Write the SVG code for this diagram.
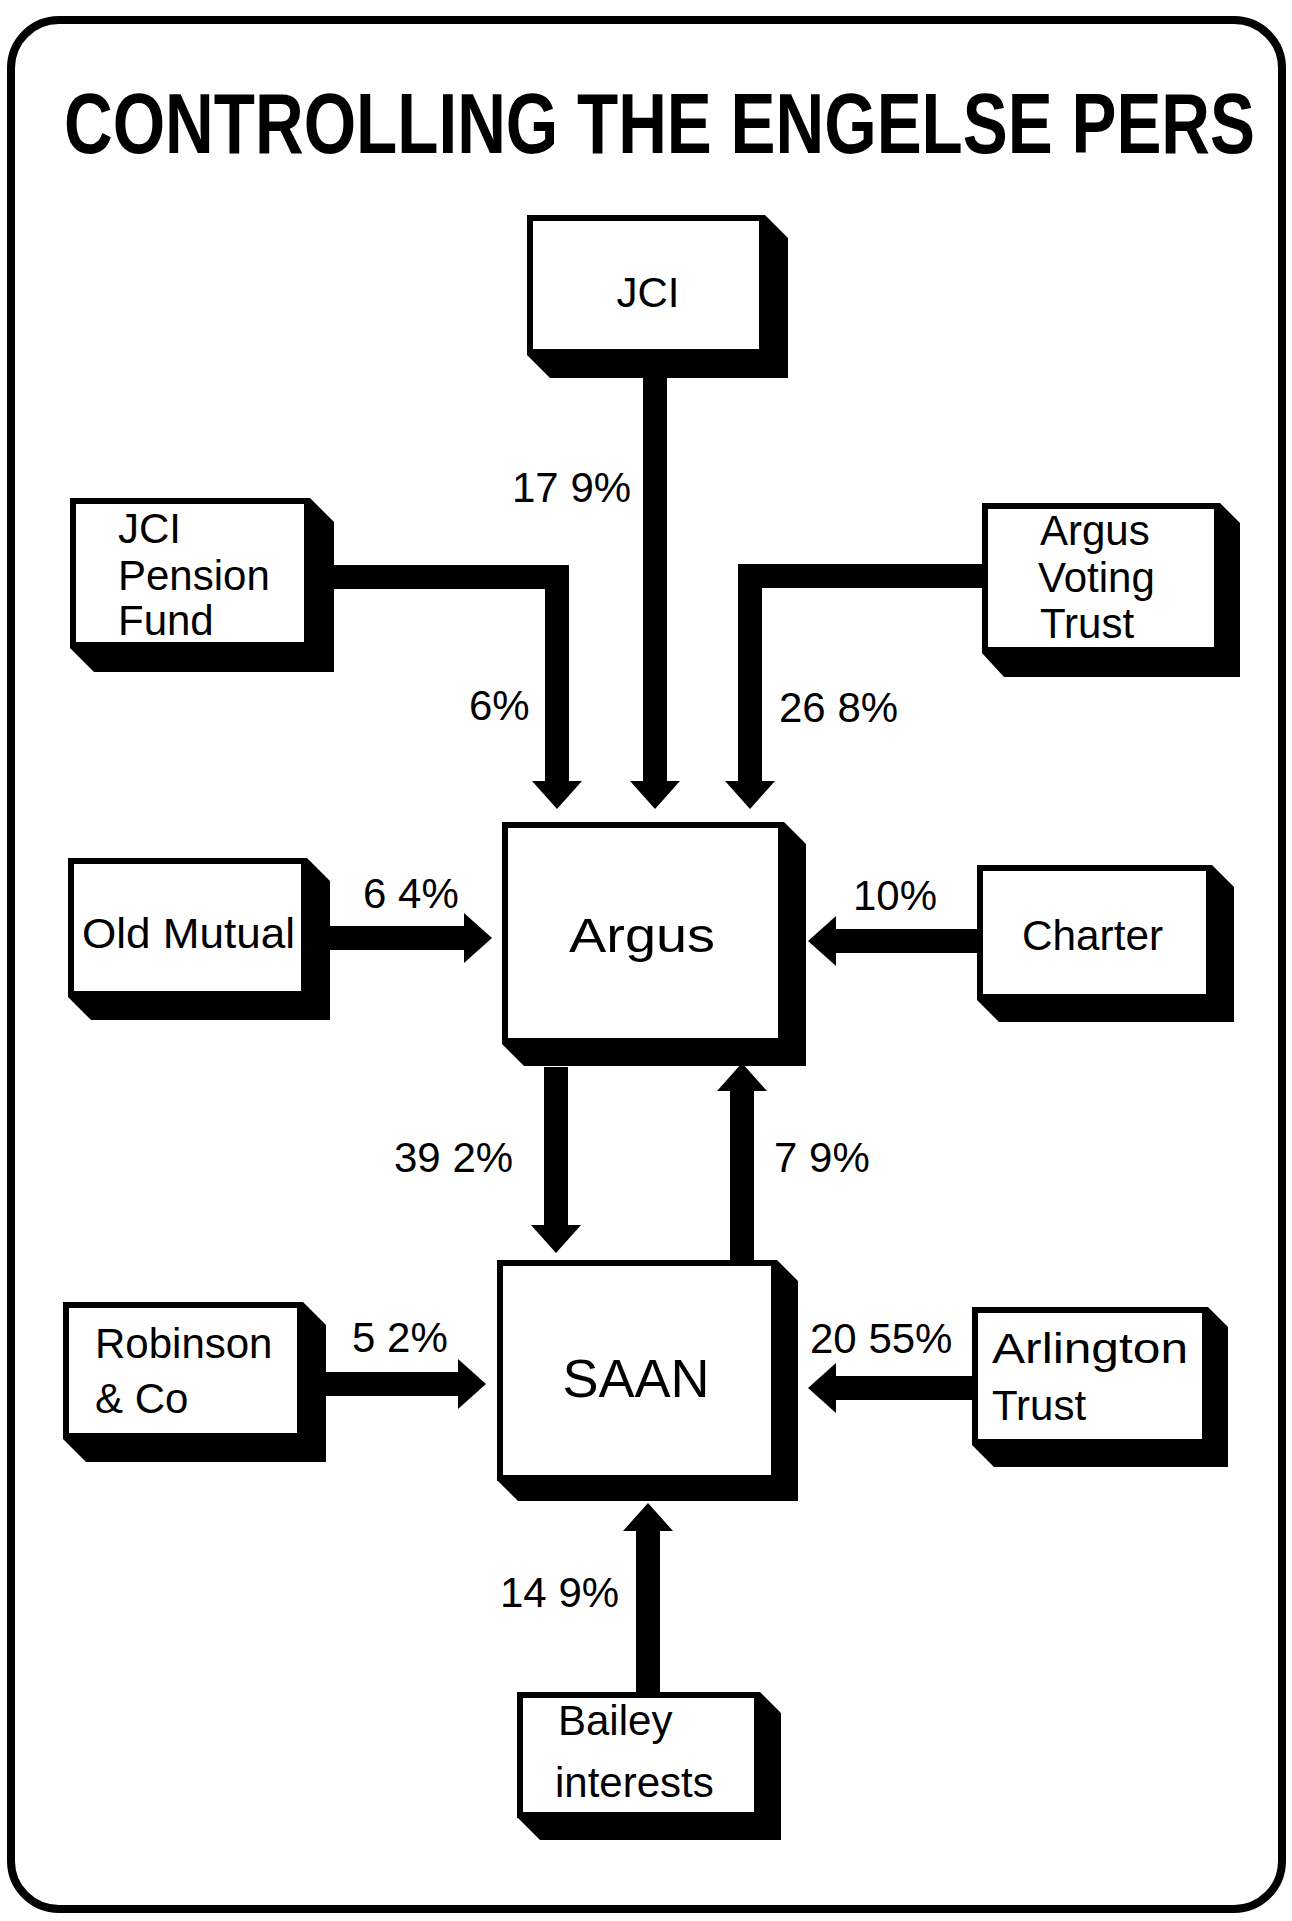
<svg xmlns="http://www.w3.org/2000/svg" width="1292" height="1921" viewBox="0 0 1292 1921">
<style>
.bg{fill:#fff}
.frame{fill:none;stroke:#000;stroke-width:8}
.face{fill:#fff;stroke:#000;stroke-width:6}
.shadow{fill:#000}
.lbl{font-family:"Liberation Sans",Arial,sans-serif;font-size:42px;fill:#000}
.pct{font-family:"Liberation Sans",Arial,sans-serif;font-size:42px;fill:#000}
.title{font-family:"Liberation Sans",Arial,sans-serif;font-weight:bold;font-size:66px;fill:#000}
.conn{fill:none;stroke:#000;stroke-width:24;stroke-linejoin:miter}
</style>
<defs>
<marker id="ah" viewBox="0 0 28 50" refX="1" refY="25" markerWidth="28" markerHeight="50" markerUnits="userSpaceOnUse" orient="auto">
<path d="M0,0 L28,25 L0,50 Z" fill="#000"/>
</marker>
</defs>
<rect class="bg" x="0" y="0" width="1292" height="1921"/>
<rect class="frame" x="11" y="20" width="1271" height="1889" rx="48" ry="48"/>
<text class="title" transform="translate(64,153) scale(1,1.3)" x="0" y="0" textLength="1191" lengthAdjust="spacingAndGlyphs">CONTROLLING THE ENGELSE PERS</text>

<g id="connectors">
<path class="conn" d="M655,378 V782" marker-end="url(#ah)"/>
<path class="conn" d="M330,577 H557 V782" marker-end="url(#ah)"/>
<path class="conn" d="M984,576 H750 V782" marker-end="url(#ah)"/>
<path class="conn" d="M328,938 H465" marker-end="url(#ah)"/>
<path class="conn" d="M979,941 H835" marker-end="url(#ah)"/>
<path class="conn" d="M556,1067 V1226" marker-end="url(#ah)"/>
<path class="conn" d="M742,1262 V1090" marker-end="url(#ah)"/>
<path class="conn" d="M325,1384 H459" marker-end="url(#ah)"/>
<path class="conn" d="M974,1388 H835" marker-end="url(#ah)"/>
<path class="conn" d="M648,1694 V1530" marker-end="url(#ah)"/>
<text class="pct" x="512" y="502">17 9%</text>
<text class="pct" x="469" y="720">6%</text>
<text class="pct" x="779" y="722">26 8%</text>
<text class="pct" x="363" y="908">6 4%</text>
<text class="pct" x="853" y="910">10%</text>
<text class="pct" x="394" y="1172">39 2%</text>
<text class="pct" x="774" y="1172">7 9%</text>
<text class="pct" x="352" y="1352">5 2%</text>
<text class="pct" x="810" y="1353">20 55%</text>
<text class="pct" x="500" y="1607">14 9%</text>
</g>

<g id="node-jci">
<polygon class="shadow" points="527,215 765,215 788,238 788,378 550,378 527,355"/>
<rect class="face" x="530" y="218" width="232" height="134"/>
<text class="lbl" x="648" y="307" text-anchor="middle">JCI</text>
</g>

<g id="node-jci-pension">
<polygon class="shadow" points="70,498 310,498 334,522 334,672 94,672 70,648"/>
<rect class="face" x="73" y="501" width="234" height="144"/>
<text class="lbl" x="118" y="543">JCI</text>
<text class="lbl" x="118" y="590">Pension</text>
<text class="lbl" x="118" y="635">Fund</text>
</g>

<g id="node-argus-voting">
<polygon class="shadow" points="982,503 1220,503 1240,523 1240,677 1004,677 982,653"/>
<rect class="face" x="985" y="506" width="232" height="144"/>
<text class="lbl" x="1040" y="545">Argus</text>
<text class="lbl" x="1038" y="592">Voting</text>
<text class="lbl" x="1040" y="638">Trust</text>
</g>

<g id="node-old-mutual">
<polygon class="shadow" points="68,858 307,858 330,881 330,1020 91,1020 68,997"/>
<rect class="face" x="71" y="861" width="233" height="133"/>
<text class="lbl" x="82" y="948" textLength="213" lengthAdjust="spacingAndGlyphs">Old Mutual</text>
</g>

<g id="node-argus">
<polygon class="shadow" points="502,822 784,822 806,844 806,1066 524,1066 502,1044"/>
<rect class="face" x="505" y="825" width="276" height="216"/>
<text class="lbl" x="642" y="952" text-anchor="middle" style="font-size:48px" textLength="146" lengthAdjust="spacingAndGlyphs">Argus</text>
</g>

<g id="node-charter">
<polygon class="shadow" points="977,865 1212,865 1234,887 1234,1022 999,1022 977,1000"/>
<rect class="face" x="980" y="868" width="229" height="129"/>
<text class="lbl" x="1022" y="950" textLength="141" lengthAdjust="spacingAndGlyphs">Charter</text>
</g>

<g id="node-robinson">
<polygon class="shadow" points="63,1302 303,1302 326,1325 326,1462 86,1462 63,1439"/>
<rect class="face" x="66" y="1305" width="234" height="131"/>
<text class="lbl" x="95" y="1358">Robinson</text>
<text class="lbl" x="95" y="1413">&amp; Co</text>
</g>

<g id="node-saan">
<polygon class="shadow" points="497,1260 777,1260 798,1281 798,1501 518,1501 497,1480"/>
<rect class="face" x="500" y="1263" width="274" height="215"/>
<text class="lbl" x="636" y="1397" text-anchor="middle" style="font-size:54px">SAAN</text>
</g>

<g id="node-arlington">
<polygon class="shadow" points="972,1307 1208,1307 1228,1327 1228,1467 994,1467 972,1445"/>
<rect class="face" x="975" y="1310" width="230" height="132"/>
<text class="lbl" x="992" y="1363" textLength="196" lengthAdjust="spacingAndGlyphs">Arlington</text>
<text class="lbl" x="992" y="1420">Trust</text>
</g>

<g id="node-bailey">
<polygon class="shadow" points="517,1692 760,1692 781,1713 781,1840 540,1840 517,1817"/>
<rect class="face" x="520" y="1695" width="237" height="120"/>
<text class="lbl" x="558" y="1735">Bailey</text>
<text class="lbl" x="555" y="1797">interests</text>
</g>
</svg>
